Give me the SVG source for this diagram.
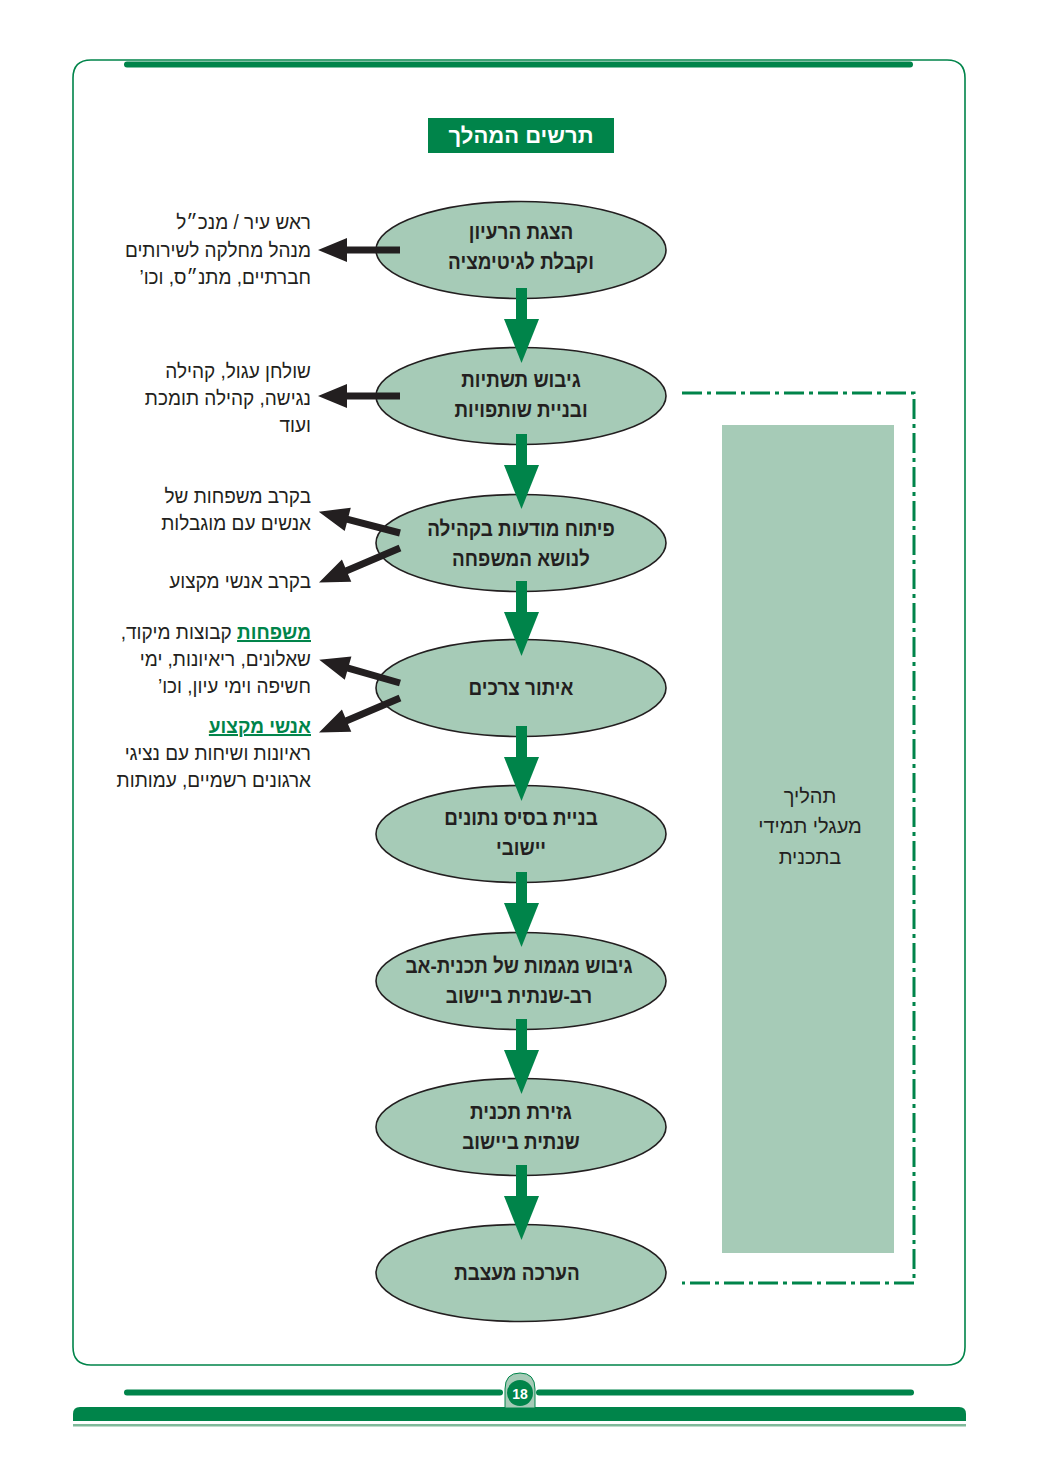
<svg xmlns="http://www.w3.org/2000/svg" width="1039" height="1468" viewBox="0 0 1039 1468">
<defs>
<style>
.bg{fill:#ffffff}
.frame{fill:none;stroke:#00844a;stroke-width:1.6}
.bar{stroke:#00844a;stroke-width:6;stroke-linecap:round}
.node{fill:#a6cbb7;stroke:#231f20;stroke-width:1.6}
.nt{font-family:"Liberation Sans",Arial,sans-serif;font-weight:bold;font-size:21px;fill:#231f20;text-anchor:middle;direction:rtl}
.lt{font-family:"Liberation Sans",Arial,sans-serif;font-size:20px;fill:#231f20;direction:rtl;text-anchor:start}
.hl{fill:#00844a;font-weight:bold;text-decoration:underline}
.garrow{fill:#00844a}
.barrow{fill:#231f20}
.dash{fill:none;stroke:#00844a;stroke-width:3;stroke-dasharray:20 5 4 5}
.side{fill:#a6cbb7}
.st{font-family:"Liberation Sans",Arial,sans-serif;font-size:20px;fill:#231f20;text-anchor:middle;direction:rtl}
</style>
<g id="gdown">
<rect x="-5.5" y="0" width="11" height="32"/>
<polygon points="-17.5,31 17.5,31 0,75"/>
</g>
</defs>
<rect class="bg" x="0" y="0" width="1039" height="1468"/>

<g id="frame">
<path class="frame" d="M73,1347 V78 Q73,60 91,60 H947 Q965,60 965,78 V1347 Q965,1365 947,1365 H91 Q73,1365 73,1347 Z"/>
<line class="bar" x1="127" y1="64.5" x2="910" y2="64.5"/>
</g>

<g id="title">
<rect x="428" y="118" width="186" height="35" fill="#00844a"/>
<text x="521" y="143" font-family="'Liberation Sans',Arial,sans-serif" font-size="22" font-weight="bold" fill="#ffffff" text-anchor="middle" direction="rtl">תרשים המהלך</text>
</g>

<g id="side-process">
<rect class="side" x="722" y="425" width="172" height="828"/>
<polyline class="dash" points="682,393 914,393 914,1283 682,1283"/>
<text class="st" x="810" y="803">תהליך</text>
<text class="st" x="810" y="833">מעגלי תמידי</text>
<text class="st" x="810" y="864">בתכנית</text>
</g>

<g id="n1"><ellipse class="node" cx="521" cy="250" rx="145" ry="48.5"/>
<g transform="translate(521,0) scale(0.9,1)"><text class="nt" x="0" y="239">הצגת הרעיון</text><text class="nt" x="0" y="269">וקבלת לגיטימציה</text></g></g>
<g id="n2"><ellipse class="node" cx="521" cy="396" rx="145" ry="48.5"/>
<g transform="translate(521,0) scale(0.9,1)"><text class="nt" x="0" y="387">גיבוש תשתיות</text><text class="nt" x="0" y="417">ובניית שותפויות</text></g></g>
<g id="n3"><ellipse class="node" cx="521" cy="543" rx="145" ry="48.5"/>
<g transform="translate(521,0) scale(0.9,1)"><text class="nt" x="0" y="536">פיתוח מודעות בקהילה</text><text class="nt" x="0" y="566">לנושא המשפחה</text></g></g>
<g id="n4"><ellipse class="node" cx="521" cy="688" rx="145" ry="48.5"/>
<g transform="translate(521,0) scale(0.9,1)"><text class="nt" x="0" y="695">איתור צרכים</text></g></g>
<g id="n5"><ellipse class="node" cx="521" cy="834" rx="145" ry="48.5"/>
<g transform="translate(521,0) scale(0.9,1)"><text class="nt" x="0" y="825">בניית בסיס נתונים</text><text class="nt" x="0" y="855">יישובי</text></g></g>
<g id="n6"><ellipse class="node" cx="521" cy="981" rx="145" ry="48.5"/>
<g transform="translate(519,0) scale(0.9,1)"><text class="nt" x="0" y="973">גיבוש מגמות של תכנית-אב</text><text class="nt" x="0" y="1003">רב-שנתית ביישוב</text></g></g>
<g id="n7"><ellipse class="node" cx="521" cy="1127" rx="145" ry="48.5"/>
<g transform="translate(521,0) scale(0.9,1)"><text class="nt" x="0" y="1119">גזירת תכנית</text><text class="nt" x="0" y="1149">שנתית ביישוב</text></g></g>
<g id="n8"><ellipse class="node" cx="521" cy="1273" rx="145" ry="48.5"/>
<g transform="translate(517,0) scale(0.9,1)"><text class="nt" x="0" y="1280">הערכה מעצבת</text></g></g>

<g id="connectors">
<use href="#gdown" class="garrow" x="521.5" y="288"/>
<use href="#gdown" class="garrow" x="521.5" y="434"/>
<use href="#gdown" class="garrow" x="521.5" y="581"/>
<use href="#gdown" class="garrow" x="521.5" y="726"/>
<use href="#gdown" class="garrow" x="521.5" y="872"/>
<use href="#gdown" class="garrow" x="521.5" y="1019"/>
<use href="#gdown" class="garrow" x="521.5" y="1165"/>
<g class="barrow">
<polygon points="400,246.5 347,246.5 347,238 318,250 347,262 347,253.5 400,253.5"/>
<polygon points="400,392.5 347,392.5 347,384 318,396 347,408 347,399.5 400,399.5"/>
<g transform="translate(400,533) rotate(14.7)"><polygon points="0,-3.5 -54,-3.5 -54,-12 -84,0 -54,12 -54,3.5 0,3.5"/></g>
<g transform="translate(400,548) rotate(-23)"><polygon points="0,-3.5 -58,-3.5 -58,-12 -88,0 -58,12 -58,3.5 0,3.5"/></g>
<g transform="translate(400,683) rotate(16)"><polygon points="0,-3.5 -54,-3.5 -54,-12 -84,0 -54,12 -54,3.5 0,3.5"/></g>
<g transform="translate(400,698) rotate(-23)"><polygon points="0,-3.5 -58,-3.5 -58,-12 -88,0 -58,12 -58,3.5 0,3.5"/></g>
</g>
</g>

<g id="labels" transform="translate(311,0) scale(0.95,1)">
<text class="lt" x="0" y="229">ראש עיר / מנכ״ל</text>
<text class="lt" x="0" y="257">מנהל מחלקה לשירותים</text>
<text class="lt" x="0" y="284">חברתיים, מתנ״ס, וכו’</text>
<text class="lt" x="0" y="378">שולחן עגול, קהילה</text>
<text class="lt" x="0" y="405">נגישה, קהילה תומכת</text>
<text class="lt" x="0" y="432">ועוד</text>
<text class="lt" x="0" y="503">בקרב משפחות של</text>
<text class="lt" x="0" y="530">אנשים עם מוגבלות</text>
<text class="lt" x="0" y="588">בקרב אנשי מקצוע</text>
<text class="lt" x="0" y="639"><tspan class="hl">משפחות</tspan> קבוצות מיקוד,</text>
<text class="lt" x="0" y="666">שאלונים, ריאיונות, ימי</text>
<text class="lt" x="0" y="693">חשיפה וימי עיון, וכו’</text>
<text class="lt" x="0" y="733"><tspan class="hl">אנשי מקצוע</tspan></text>
<text class="lt" x="0" y="760">ראיונות ושיחות עם נציגי</text>
<text class="lt" x="0" y="787">ארגונים רשמיים, עמותות</text>
</g>

<g id="footer">
<line class="bar" x1="127" y1="1392.5" x2="500" y2="1392.5"/>
<line class="bar" x1="539" y1="1392.5" x2="911" y2="1392.5"/>
<path d="M73,1421 V1414 Q73,1407 80,1407 H959 Q966,1407 966,1414 V1421 Z" fill="#00844a"/>
<rect x="73" y="1424" width="893" height="2.5" fill="#7fb99a"/>
<path d="M505,1408 V1389 Q505,1373 520,1373 Q535,1373 535,1389 V1408 Z" fill="#a6cbb7" stroke="#00844a" stroke-width="1"/>
<circle cx="520" cy="1393" r="13" fill="#00844a"/>
<text x="520" y="1398.5" font-family="'Liberation Sans',Arial,sans-serif" font-size="14" font-weight="bold" fill="#ffffff" text-anchor="middle">18</text>
</g>
</svg>
